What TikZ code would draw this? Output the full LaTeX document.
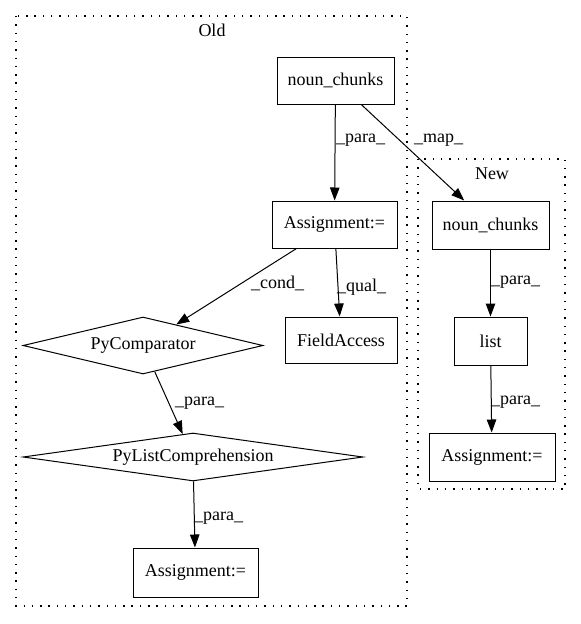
\documentclass[tikz,border=0pt]{standalone}
\usepackage{fontspec}
\setmainfont{Liberation Serif}
\usetikzlibrary{shapes.geometric,arrows.meta}
\begin{document}
\begin{tikzpicture}[x=1pt,y=-1pt,
  every node/.style={font=\fontsize{18}{20}\selectfont},
  box/.style={draw, line width=1pt, rectangle, inner sep=0pt, minimum height=47pt},
  dia/.style={draw, line width=1pt, diamond, inner sep=0pt},
  cluster/.style={draw, line width=1.4pt, dash pattern=on 1.4pt off 6.9pt},
  edge/.style={draw, line width=1pt, -{Triangle[length=13pt,width=9.5pt]}},
  elabel/.style={anchor=west, inner sep=0pt}]
\useasboundingbox (0,0) rectangle (581,624);
% clusters
\draw[cluster] (16,16) rectangle (407,606);
\node (oldlbl) at (212,30) {Old};
\draw[cluster] (418,159) rectangle (565,489);
\node (newlbl) at (492,174) {New};
% old nodes
\node[box, minimum width=117pt] (onc) at (335.5,80.5) {noun\_chunks};
\node[box, minimum width=125pt] (oas) at (334.5,224.5) {Assignment:=};
\node[box, minimum width=112pt, minimum height=46pt] (ofa) at (341,340) {FieldAccess};
\node[dia, shape aspect=4.2, minimum width=240pt, minimum height=57pt] (opc) at (143,345.5) {PyComparator};
\node[dia, shape aspect=7, minimum width=340pt, minimum height=48pt] (oplc) at (193,457) {PyListComprehension};
\node[box, minimum width=125pt, minimum height=49pt] (oas2) at (195.5,572.5) {Assignment:=};
% new nodes
\node[box, minimum width=117pt, minimum height=48pt] (nnc) at (490.5,225) {noun\_chunks};
\node[box, minimum width=73pt, minimum height=48pt] (nli) at (490.5,341) {list};
\node[box, minimum width=126pt, minimum height=48pt] (nas) at (492,457) {Assignment:=};
% edges
\draw[edge] (onc) -- (oas);
\draw[edge] (onc) -- (nnc);
\draw[edge] (oas) -- (opc);
\draw[edge] (oas) -- (ofa);
\draw[edge] (opc) -- (oplc);
\draw[edge] (oplc) -- (oas2);
\draw[edge] (nnc) -- (nli);
\draw[edge] (nli) -- (nas);
% edge labels
\node[elabel] (l1) at (336,140) {\_para\_};
\node[elabel] (l2) at (414,140) {\_map\_};
\node[elabel] (l3) at (251,283) {\_cond\_};
\node[elabel] (l4) at (337,287) {\_qual\_};
\node[elabel] (l5) at (175,403) {\_para\_};
\node[elabel] (l6) at (194,518) {\_para\_};
\node[elabel] (l7) at (491,282) {\_para\_};
\node[elabel] (l8) at (491,402) {\_para\_};
\end{tikzpicture}
\end{document}
